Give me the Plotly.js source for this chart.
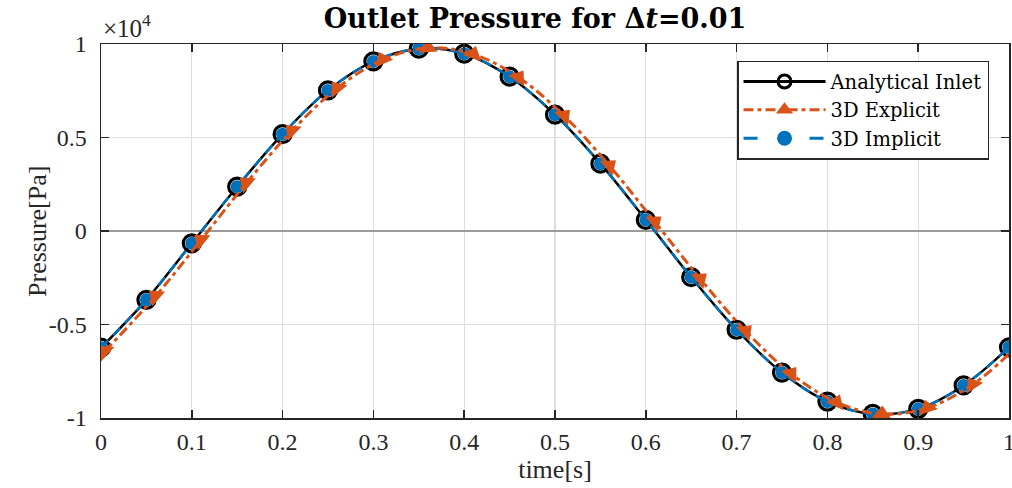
<!DOCTYPE html>
<html>
<head>
<meta charset="utf-8">
<script src="https://cdn.plot.ly/plotly-3.0.1.min.js"></script>
<style>html,body{margin:0;padding:0;background:#fff;}#chart{width:1012px;height:488px;}</style>
</head>
<body>
<div id="chart"></div>
<script>
// ---- data (Pa) ----
const time = [0,0.05,0.1,0.15,0.2,0.25,0.3,0.35,0.4,0.45,0.5,0.55,0.6,0.65,0.7,0.75,0.8,0.85,0.9,0.95,1.0];
const analytical = [-6240,-3680,-660,2370,5180,7520,9070,9750,9480,8250,6220,3600,600,-2470,-5280,-7570,-9120,-9780,-9510,-8260,-6220];
const implicit3D = [-6240,-3680,-660,2370,5180,7520,9070,9750,9480,8250,6220,3600,600,-2470,-5280,-7570,-9120,-9780,-9510,-8260,-6220];
const timeExplicit = [0.004,0.06,0.11,0.16,0.21,0.26,0.31,0.36,0.41,0.46,0.51,0.56,0.61,0.66,0.71,0.76,0.81,0.86,0.91,0.96,1.0];
const explicit3D = [-6440,-3490,-490,2560,5350,7630,9160,9790,9460,8210,6160,3490,490,-2560,-5350,-7630,-9160,-9790,-9460,-8210,-6580];
const yTickVals = [-10000,-5000,0,5000,10000];
const yTickText = ['-1','-0.5','0','0.5','1'];
const xTickVals = [0,0.1,0.2,0.3,0.4,0.5,0.6,0.7,0.8,0.9,1];
const xTickText = ['0','0.1','0.2','0.3','0.4','0.5','0.6','0.7','0.8','0.9','1'];

const BLUE = '#0072BD', ORANGE = '#D95319';
const FONT = 'Liberation Serif, serif';
const TFONT = 'DejaVu Serif, serif';

// plot area geometry (px)
const M = {l:101, r:3, t:44, b:70};
const W = 1012 - M.l - M.r, H = 488 - M.t - M.b;
const yr = [-10000, 10000];

// marker orientation: triangle points along the curve's normal
function normalAngles(xs, ys) {
  const n = xs.length, out = [];
  for (let i = 0; i < n; i++) {
    const a = Math.max(0, i - 1), b = Math.min(n - 1, i + 1);
    const s = ((ys[b] - ys[a]) / (yr[1] - yr[0]) * H) / ((xs[b] - xs[a]) * W);
    out.push(-Math.atan(s) * 180 / Math.PI);
  }
  return out;
}
const expSizes = timeExplicit.map((t, i) => i === timeExplicit.length - 1 ? 0 : 17);

const traces = [
  {x: time, y: analytical, type: 'scatter', mode: 'lines+markers', showlegend: false,
   line: {color: '#000', width: 2.5, shape: 'spline'},
   marker: {symbol: 'circle-open', size: 17, color: '#000', line: {width: 3.2, color: '#000'}}},
  {x: time, y: implicit3D, type: 'scatter', mode: 'lines+markers', showlegend: false,
   line: {color: BLUE, width: 2.5, dash: '10px,7px', shape: 'spline'},
   marker: {symbol: 'circle', size: 13, color: BLUE}},
  {x: timeExplicit, y: explicit3D, type: 'scatter', mode: 'lines+markers', showlegend: false,
   line: {color: ORANGE, width: 3, dash: '10px,4px,4px,4px', shape: 'spline'},
   marker: {symbol: 'triangle-up', size: expSizes, sizemode: 'diameter', sizeref: 1, opacity: 1,
            color: ORANGE, line: {width: 0, color: ORANGE},
            angle: normalAngles(timeExplicit, explicit3D), angleref: 'up'}},
  // legend entries
  {x: [null], y: [null], type: 'scatter', mode: 'lines+markers', name: 'Analytical Inlet', legendrank: 1,
   line: {color: '#000', width: 3},
   marker: {symbol: 'circle-open', size: 13, color: '#000', line: {width: 3, color: '#000'}}},
  {x: [null], y: [null], type: 'scatter', mode: 'lines+markers', name: '3D Explicit', legendrank: 2,
   line: {color: ORANGE, width: 3, dash: '10px,4px,4px,4px'},
   marker: {symbol: 'triangle-up', size: 15, color: ORANGE}},
  {x: [null], y: [null], type: 'scatter', mode: 'lines+markers', name: '3D Implicit', legendrank: 3,
   line: {color: BLUE, width: 3, dash: '14px,52px,14px'},
   marker: {symbol: 'circle', size: 15, color: BLUE}}
];

const axisCommon = {
  showline: true, linecolor: '#262626', linewidth: 1.5, mirror: 'ticks',
  ticks: 'inside', ticklen: 8, tickwidth: 1.5, tickcolor: '#262626',
  showgrid: true, gridcolor: '#dedede', gridwidth: 1.2,
  tickfont: {family: FONT, size: 24, color: '#262626'}
};

const layout = {
  width: 1012, height: 488,
  margin: M,
  paper_bgcolor: '#fff', plot_bgcolor: '#fff',
  font: {family: FONT, color: '#262626'},
  title: {text: '<b>Outlet Pressure for Δ<i>t</i>=0.01</b>', font: {family: TFONT, size: 27, color: '#000'},
          xref: 'paper', x: 0.478, xanchor: 'center', yref: 'container', y: 0.962, yanchor: 'middle'},
  xaxis: Object.assign({}, axisCommon, {range: [0, 1], tickmode: 'array', tickvals: xTickVals, ticktext: xTickText,
          zeroline: false, ticklabelstandoff: 2, ticklabeloverflow: 'allow',
          title: {text: 'time[s]', font: {family: FONT, size: 26, color: '#262626'}, standoff: 2}}),
  yaxis: Object.assign({}, axisCommon, {range: yr, tickmode: 'array', tickvals: yTickVals, ticktext: yTickText,
          zeroline: true, zerolinecolor: '#9a9a9a', zerolinewidth: 2.5, ticklabelstandoff: 8}),
  legend: {x: 0.978, y: 0.955, xanchor: 'right', yanchor: 'top', bgcolor: '#fff',
           bordercolor: '#262626', borderwidth: 1.5, itemwidth: 82,
           font: {family: TFONT, size: 19.5, color: '#000'}, tracegroupgap: 0},
  annotations: [
    {xref: 'paper', yref: 'paper', x: 0.0, y: 1.0, xanchor: 'left', yanchor: 'bottom',
     text: '×10<sup>4</sup>', showarrow: false, font: {family: FONT, size: 25, color: '#262626'}},
    {xref: 'paper', yref: 'paper', x: -0.0705, y: 0.5, xanchor: 'center', yanchor: 'middle', textangle: -90,
     text: 'Pressure[Pa]', showarrow: false, font: {family: FONT, size: 26, color: '#262626'}}
  ]
};

Plotly.newPlot('chart', traces, layout, {displayModeBar: false, staticPlot: true});
</script>
</body>
</html>
